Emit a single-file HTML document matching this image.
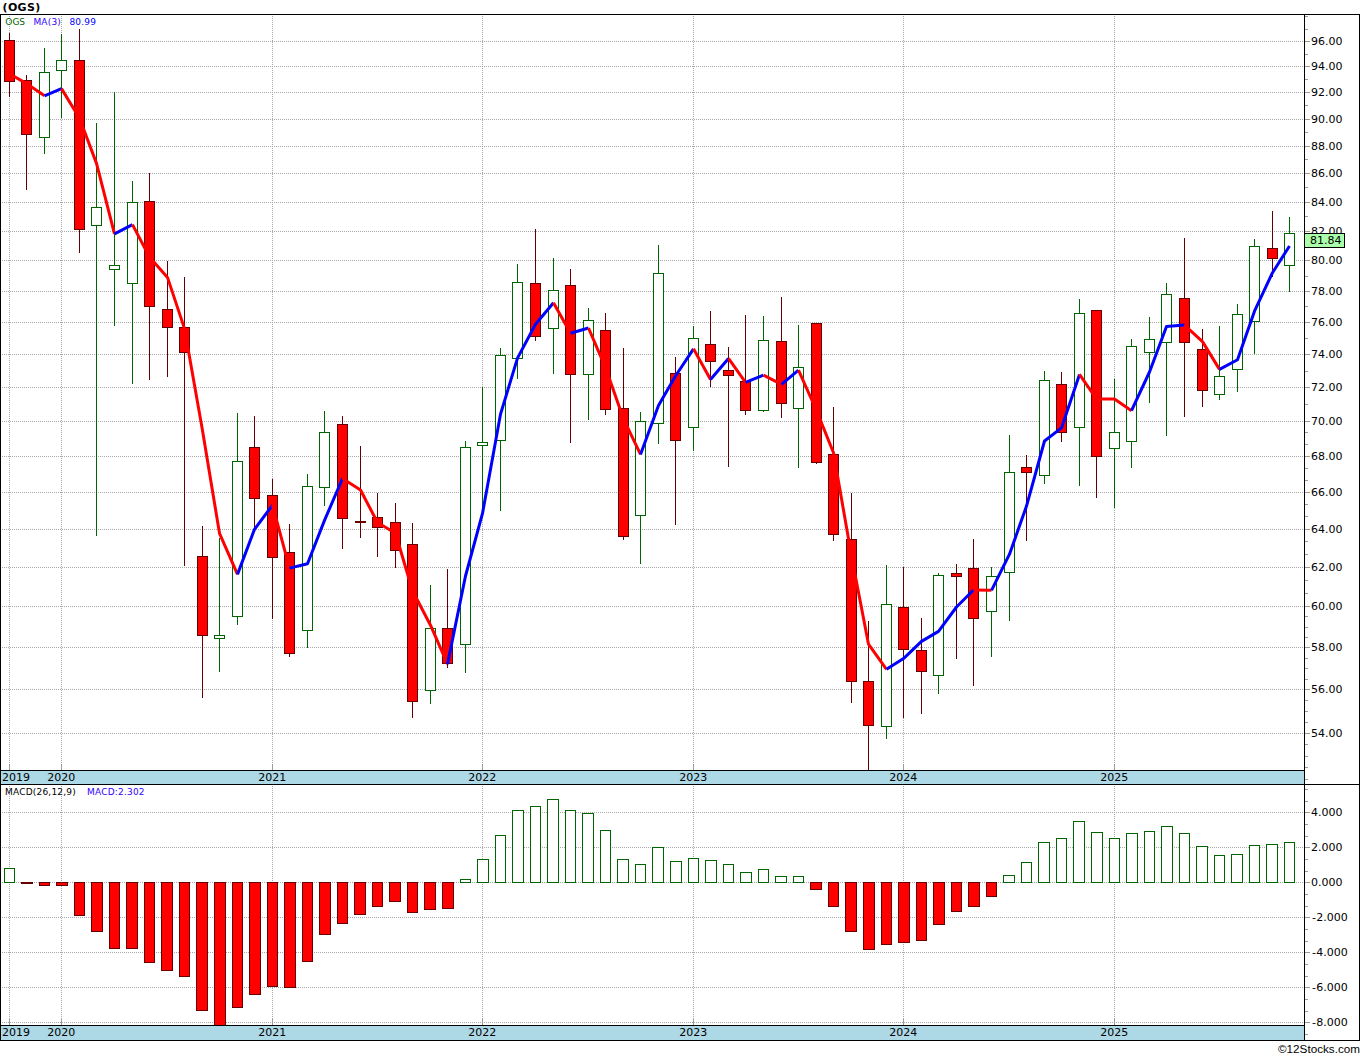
<!DOCTYPE html>
<html lang="en"><head><meta charset="utf-8"><title>(OGS)</title>
<style>
html,body{margin:0;padding:0;background:#fff;}
body{width:1360px;height:1056px;overflow:hidden;}
svg{display:block;}
text{font-family:"DejaVu Sans","Liberation Sans",sans-serif;}
.ax{font-size:11px;fill:#000;}
.lg{font-size:9px;}
.ft{font-family:"Liberation Sans",sans-serif;font-size:11.7px;fill:#000;}
</style></head><body>
<svg width="1360" height="1056" viewBox="0 0 1360 1056">
<rect x="0" y="0" width="1360" height="1056" fill="#ffffff"/>
<text x="2.5" y="11" style="font-size:11px;font-weight:bold;fill:#000;letter-spacing:0.35px">(OGS)</text>
<g shape-rendering="crispEdges" stroke="#a8a8a8" stroke-width="1" stroke-dasharray="1,1" fill="none">
<line x1="2" y1="41.5" x2="1304" y2="41.5"/>
<line x1="2" y1="66.5" x2="1304" y2="66.5"/>
<line x1="2" y1="92.5" x2="1304" y2="92.5"/>
<line x1="2" y1="119.5" x2="1304" y2="119.5"/>
<line x1="2" y1="146.5" x2="1304" y2="146.5"/>
<line x1="2" y1="173.5" x2="1304" y2="173.5"/>
<line x1="2" y1="202.5" x2="1304" y2="202.5"/>
<line x1="2" y1="231.5" x2="1304" y2="231.5"/>
<line x1="2" y1="260.5" x2="1304" y2="260.5"/>
<line x1="2" y1="291.5" x2="1304" y2="291.5"/>
<line x1="2" y1="322.5" x2="1304" y2="322.5"/>
<line x1="2" y1="354.5" x2="1304" y2="354.5"/>
<line x1="2" y1="387.5" x2="1304" y2="387.5"/>
<line x1="2" y1="421.5" x2="1304" y2="421.5"/>
<line x1="2" y1="456.5" x2="1304" y2="456.5"/>
<line x1="2" y1="492.5" x2="1304" y2="492.5"/>
<line x1="2" y1="529.5" x2="1304" y2="529.5"/>
<line x1="2" y1="567.5" x2="1304" y2="567.5"/>
<line x1="2" y1="606.5" x2="1304" y2="606.5"/>
<line x1="2" y1="647.5" x2="1304" y2="647.5"/>
<line x1="2" y1="689.5" x2="1304" y2="689.5"/>
<line x1="2" y1="733.5" x2="1304" y2="733.5"/>
<line x1="2" y1="812.5" x2="1304" y2="812.5"/>
<line x1="2" y1="847.5" x2="1304" y2="847.5"/>
<line x1="2" y1="882.5" x2="1304" y2="882.5"/>
<line x1="2" y1="917.5" x2="1304" y2="917.5"/>
<line x1="2" y1="952.5" x2="1304" y2="952.5"/>
<line x1="2" y1="987.5" x2="1304" y2="987.5"/>
<line x1="2" y1="1022.5" x2="1304" y2="1022.5"/>
<line x1="9.5" y1="16" x2="9.5" y2="764"/>
<line x1="9.5" y1="786" x2="9.5" y2="1020"/>
<line x1="61.5" y1="16" x2="61.5" y2="764"/>
<line x1="61.5" y1="786" x2="61.5" y2="1020"/>
<line x1="272.5" y1="16" x2="272.5" y2="764"/>
<line x1="272.5" y1="786" x2="272.5" y2="1020"/>
<line x1="482.5" y1="16" x2="482.5" y2="764"/>
<line x1="482.5" y1="786" x2="482.5" y2="1020"/>
<line x1="693.5" y1="16" x2="693.5" y2="764"/>
<line x1="693.5" y1="786" x2="693.5" y2="1020"/>
<line x1="903.5" y1="16" x2="903.5" y2="764"/>
<line x1="903.5" y1="786" x2="903.5" y2="1020"/>
<line x1="1114.5" y1="16" x2="1114.5" y2="764"/>
<line x1="1114.5" y1="786" x2="1114.5" y2="1020"/>
</g>
<g shape-rendering="crispEdges">
<rect x="1" y="771" width="1303" height="13" fill="#add8e6"/>
<rect x="1" y="1026" width="1303" height="14" fill="#add8e6"/>
<rect x="9" y="764" width="1" height="6" fill="#9a9a9a"/>
<rect x="9" y="1019" width="1" height="6" fill="#9a9a9a"/>
<rect x="61" y="764" width="1" height="6" fill="#9a9a9a"/>
<rect x="61" y="1019" width="1" height="6" fill="#9a9a9a"/>
<rect x="272" y="764" width="1" height="6" fill="#9a9a9a"/>
<rect x="272" y="1019" width="1" height="6" fill="#9a9a9a"/>
<rect x="482" y="764" width="1" height="6" fill="#9a9a9a"/>
<rect x="482" y="1019" width="1" height="6" fill="#9a9a9a"/>
<rect x="693" y="764" width="1" height="6" fill="#9a9a9a"/>
<rect x="693" y="1019" width="1" height="6" fill="#9a9a9a"/>
<rect x="903" y="764" width="1" height="6" fill="#9a9a9a"/>
<rect x="903" y="1019" width="1" height="6" fill="#9a9a9a"/>
<rect x="1114" y="764" width="1" height="6" fill="#9a9a9a"/>
<rect x="1114" y="1019" width="1" height="6" fill="#9a9a9a"/>
<rect x="0" y="14" width="1360" height="1" fill="#000"/>
<rect x="0" y="14" width="1" height="1027" fill="#000"/>
<rect x="1359" y="14" width="1" height="1027" fill="#000"/>
<rect x="0" y="1040" width="1360" height="1" fill="#000"/>
<rect x="0" y="770" width="1305" height="1" fill="#000"/>
<rect x="0" y="784" width="1360" height="1" fill="#000"/>
<rect x="0" y="1025" width="1305" height="1" fill="#000"/>
<rect x="1304" y="14" width="1" height="1027" fill="#000"/>
<rect x="1305" y="16" width="3" height="1" fill="#9a9a9a"/>
<rect x="1305" y="29" width="3" height="1" fill="#9a9a9a"/>
<rect x="1305" y="41" width="5" height="1" fill="#9a9a9a"/>
<rect x="1305" y="54" width="3" height="1" fill="#9a9a9a"/>
<rect x="1305" y="66" width="5" height="1" fill="#9a9a9a"/>
<rect x="1305" y="79" width="3" height="1" fill="#9a9a9a"/>
<rect x="1305" y="92" width="5" height="1" fill="#9a9a9a"/>
<rect x="1305" y="105" width="3" height="1" fill="#9a9a9a"/>
<rect x="1305" y="119" width="5" height="1" fill="#9a9a9a"/>
<rect x="1305" y="132" width="3" height="1" fill="#9a9a9a"/>
<rect x="1305" y="146" width="5" height="1" fill="#9a9a9a"/>
<rect x="1305" y="159" width="3" height="1" fill="#9a9a9a"/>
<rect x="1305" y="173" width="5" height="1" fill="#9a9a9a"/>
<rect x="1305" y="187" width="3" height="1" fill="#9a9a9a"/>
<rect x="1305" y="202" width="5" height="1" fill="#9a9a9a"/>
<rect x="1305" y="216" width="3" height="1" fill="#9a9a9a"/>
<rect x="1305" y="231" width="5" height="1" fill="#9a9a9a"/>
<rect x="1305" y="245" width="3" height="1" fill="#9a9a9a"/>
<rect x="1305" y="260" width="5" height="1" fill="#9a9a9a"/>
<rect x="1305" y="276" width="3" height="1" fill="#9a9a9a"/>
<rect x="1305" y="291" width="5" height="1" fill="#9a9a9a"/>
<rect x="1305" y="306" width="3" height="1" fill="#9a9a9a"/>
<rect x="1305" y="322" width="5" height="1" fill="#9a9a9a"/>
<rect x="1305" y="338" width="3" height="1" fill="#9a9a9a"/>
<rect x="1305" y="354" width="5" height="1" fill="#9a9a9a"/>
<rect x="1305" y="371" width="3" height="1" fill="#9a9a9a"/>
<rect x="1305" y="387" width="5" height="1" fill="#9a9a9a"/>
<rect x="1305" y="404" width="3" height="1" fill="#9a9a9a"/>
<rect x="1305" y="421" width="5" height="1" fill="#9a9a9a"/>
<rect x="1305" y="432" width="3" height="1" fill="#9a9a9a"/>
<rect x="1305" y="444" width="3" height="1" fill="#9a9a9a"/>
<rect x="1305" y="456" width="5" height="1" fill="#9a9a9a"/>
<rect x="1305" y="468" width="3" height="1" fill="#9a9a9a"/>
<rect x="1305" y="480" width="3" height="1" fill="#9a9a9a"/>
<rect x="1305" y="492" width="5" height="1" fill="#9a9a9a"/>
<rect x="1305" y="504" width="3" height="1" fill="#9a9a9a"/>
<rect x="1305" y="516" width="3" height="1" fill="#9a9a9a"/>
<rect x="1305" y="529" width="5" height="1" fill="#9a9a9a"/>
<rect x="1305" y="541" width="3" height="1" fill="#9a9a9a"/>
<rect x="1305" y="554" width="3" height="1" fill="#9a9a9a"/>
<rect x="1305" y="567" width="5" height="1" fill="#9a9a9a"/>
<rect x="1305" y="580" width="3" height="1" fill="#9a9a9a"/>
<rect x="1305" y="593" width="3" height="1" fill="#9a9a9a"/>
<rect x="1305" y="606" width="5" height="1" fill="#9a9a9a"/>
<rect x="1305" y="616" width="3" height="1" fill="#9a9a9a"/>
<rect x="1305" y="627" width="3" height="1" fill="#9a9a9a"/>
<rect x="1305" y="637" width="3" height="1" fill="#9a9a9a"/>
<rect x="1305" y="647" width="5" height="1" fill="#9a9a9a"/>
<rect x="1305" y="658" width="3" height="1" fill="#9a9a9a"/>
<rect x="1305" y="668" width="3" height="1" fill="#9a9a9a"/>
<rect x="1305" y="679" width="3" height="1" fill="#9a9a9a"/>
<rect x="1305" y="689" width="5" height="1" fill="#9a9a9a"/>
<rect x="1305" y="700" width="3" height="1" fill="#9a9a9a"/>
<rect x="1305" y="711" width="3" height="1" fill="#9a9a9a"/>
<rect x="1305" y="722" width="3" height="1" fill="#9a9a9a"/>
<rect x="1305" y="733" width="5" height="1" fill="#9a9a9a"/>
<rect x="1305" y="744" width="3" height="1" fill="#9a9a9a"/>
<rect x="1305" y="756" width="3" height="1" fill="#9a9a9a"/>
<rect x="1305" y="767" width="3" height="1" fill="#9a9a9a"/>
<rect x="1305" y="779" width="3" height="1" fill="#9a9a9a"/>
<rect x="1305" y="789" width="3" height="1" fill="#9a9a9a"/>
<rect x="1305" y="801" width="3" height="1" fill="#9a9a9a"/>
<rect x="1305" y="812" width="5" height="1" fill="#9a9a9a"/>
<rect x="1305" y="824" width="3" height="1" fill="#9a9a9a"/>
<rect x="1305" y="836" width="3" height="1" fill="#9a9a9a"/>
<rect x="1305" y="847" width="5" height="1" fill="#9a9a9a"/>
<rect x="1305" y="859" width="3" height="1" fill="#9a9a9a"/>
<rect x="1305" y="871" width="3" height="1" fill="#9a9a9a"/>
<rect x="1305" y="882" width="5" height="1" fill="#9a9a9a"/>
<rect x="1305" y="894" width="3" height="1" fill="#9a9a9a"/>
<rect x="1305" y="906" width="3" height="1" fill="#9a9a9a"/>
<rect x="1305" y="917" width="5" height="1" fill="#9a9a9a"/>
<rect x="1305" y="929" width="3" height="1" fill="#9a9a9a"/>
<rect x="1305" y="941" width="3" height="1" fill="#9a9a9a"/>
<rect x="1305" y="952" width="5" height="1" fill="#9a9a9a"/>
<rect x="1305" y="964" width="3" height="1" fill="#9a9a9a"/>
<rect x="1305" y="976" width="3" height="1" fill="#9a9a9a"/>
<rect x="1305" y="987" width="5" height="1" fill="#9a9a9a"/>
<rect x="1305" y="999" width="3" height="1" fill="#9a9a9a"/>
<rect x="1305" y="1011" width="3" height="1" fill="#9a9a9a"/>
<rect x="1305" y="1022" width="5" height="1" fill="#9a9a9a"/>
<rect x="1305" y="1034" width="3" height="1" fill="#9a9a9a"/>
</g>
<text class="ax" x="1311" y="45">96.00</text>
<text class="ax" x="1311" y="70">94.00</text>
<text class="ax" x="1311" y="96">92.00</text>
<text class="ax" x="1311" y="123">90.00</text>
<text class="ax" x="1311" y="150">88.00</text>
<text class="ax" x="1311" y="177">86.00</text>
<text class="ax" x="1311" y="206">84.00</text>
<text class="ax" x="1311" y="235">82.00</text>
<text class="ax" x="1311" y="264">80.00</text>
<text class="ax" x="1311" y="295">78.00</text>
<text class="ax" x="1311" y="326">76.00</text>
<text class="ax" x="1311" y="358">74.00</text>
<text class="ax" x="1311" y="391">72.00</text>
<text class="ax" x="1311" y="425">70.00</text>
<text class="ax" x="1311" y="460">68.00</text>
<text class="ax" x="1311" y="496">66.00</text>
<text class="ax" x="1311" y="533">64.00</text>
<text class="ax" x="1311" y="571">62.00</text>
<text class="ax" x="1311" y="610">60.00</text>
<text class="ax" x="1311" y="651">58.00</text>
<text class="ax" x="1311" y="693">56.00</text>
<text class="ax" x="1311" y="737">54.00</text>
<text class="ax" x="1311" y="816">4.000</text>
<text class="ax" x="1311" y="851">2.000</text>
<text class="ax" x="1311" y="886">0.000</text>
<text class="ax" x="1311.9" y="921">-<tspan dx="0.4">2.000</tspan></text>
<text class="ax" x="1311.9" y="956">-<tspan dx="0.4">4.000</tspan></text>
<text class="ax" x="1311.9" y="991">-<tspan dx="0.4">6.000</tspan></text>
<text class="ax" x="1311.9" y="1026">-<tspan dx="0.4">8.000</tspan></text>
<text class="ax" x="2" y="781">2019</text>
<text class="ax" x="2" y="1036">2019</text>
<text class="ax" x="61.2" y="781" text-anchor="middle">2020</text>
<text class="ax" x="61.2" y="1036" text-anchor="middle">2020</text>
<text class="ax" x="272.2" y="781" text-anchor="middle">2021</text>
<text class="ax" x="272.2" y="1036" text-anchor="middle">2021</text>
<text class="ax" x="482.2" y="781" text-anchor="middle">2022</text>
<text class="ax" x="482.2" y="1036" text-anchor="middle">2022</text>
<text class="ax" x="693.2" y="781" text-anchor="middle">2023</text>
<text class="ax" x="693.2" y="1036" text-anchor="middle">2023</text>
<text class="ax" x="903.2" y="781" text-anchor="middle">2024</text>
<text class="ax" x="903.2" y="1036" text-anchor="middle">2024</text>
<text class="ax" x="1114.2" y="781" text-anchor="middle">2025</text>
<text class="ax" x="1114.2" y="1036" text-anchor="middle">2025</text>
<g shape-rendering="crispEdges">
<rect x="9" y="33" width="1" height="64" fill="#660000"/>
<rect x="4.5" y="40.5" width="10" height="41" fill="#ff0000" stroke="#660000" stroke-width="1"/>
<rect x="26" y="75" width="1" height="115" fill="#660000"/>
<rect x="21.5" y="80.5" width="10" height="54" fill="#ff0000" stroke="#660000" stroke-width="1"/>
<rect x="44" y="48" width="1" height="106" fill="#006400"/>
<rect x="39.5" y="72.5" width="10" height="65" fill="#ffffff" stroke="#006400" stroke-width="1"/>
<rect x="61" y="34" width="1" height="84" fill="#006400"/>
<rect x="56.5" y="60.5" width="10" height="10" fill="#ffffff" stroke="#006400" stroke-width="1"/>
<rect x="79" y="29" width="1" height="224" fill="#660000"/>
<rect x="74.5" y="60.5" width="10" height="169" fill="#ff0000" stroke="#660000" stroke-width="1"/>
<rect x="96" y="123" width="1" height="413" fill="#006400"/>
<rect x="91.5" y="207.5" width="10" height="18" fill="#ffffff" stroke="#006400" stroke-width="1"/>
<rect x="114" y="92" width="1" height="234" fill="#006400"/>
<rect x="109.5" y="265.5" width="10" height="4" fill="#ffffff" stroke="#006400" stroke-width="1"/>
<rect x="132" y="181" width="1" height="203" fill="#006400"/>
<rect x="127.5" y="202.5" width="10" height="81" fill="#ffffff" stroke="#006400" stroke-width="1"/>
<rect x="149" y="173" width="1" height="207" fill="#660000"/>
<rect x="144.5" y="201.5" width="10" height="105" fill="#ff0000" stroke="#660000" stroke-width="1"/>
<rect x="167" y="261" width="1" height="116" fill="#660000"/>
<rect x="162.5" y="309.5" width="10" height="18" fill="#ff0000" stroke="#660000" stroke-width="1"/>
<rect x="184" y="277" width="1" height="289" fill="#660000"/>
<rect x="179.5" y="327.5" width="10" height="25" fill="#ff0000" stroke="#660000" stroke-width="1"/>
<rect x="202" y="526" width="1" height="172" fill="#660000"/>
<rect x="197.5" y="556.5" width="10" height="79" fill="#ff0000" stroke="#660000" stroke-width="1"/>
<rect x="219" y="538" width="1" height="134" fill="#006400"/>
<rect x="214.5" y="635.5" width="10" height="3" fill="#ffffff" stroke="#006400" stroke-width="1"/>
<rect x="237" y="413" width="1" height="212" fill="#006400"/>
<rect x="232.5" y="461.5" width="10" height="155" fill="#ffffff" stroke="#006400" stroke-width="1"/>
<rect x="254" y="416" width="1" height="112" fill="#660000"/>
<rect x="249.5" y="447.5" width="10" height="51" fill="#ff0000" stroke="#660000" stroke-width="1"/>
<rect x="272" y="479" width="1" height="140" fill="#660000"/>
<rect x="267.5" y="495.5" width="10" height="62" fill="#ff0000" stroke="#660000" stroke-width="1"/>
<rect x="289" y="524" width="1" height="133" fill="#660000"/>
<rect x="284.5" y="552.5" width="10" height="101" fill="#ff0000" stroke="#660000" stroke-width="1"/>
<rect x="307" y="474" width="1" height="174" fill="#006400"/>
<rect x="302.5" y="486.5" width="10" height="144" fill="#ffffff" stroke="#006400" stroke-width="1"/>
<rect x="324" y="411" width="1" height="95" fill="#006400"/>
<rect x="319.5" y="432.5" width="10" height="55" fill="#ffffff" stroke="#006400" stroke-width="1"/>
<rect x="342" y="416" width="1" height="133" fill="#660000"/>
<rect x="337.5" y="424.5" width="10" height="94" fill="#ff0000" stroke="#660000" stroke-width="1"/>
<rect x="360" y="446" width="1" height="92" fill="#660000"/>
<rect x="355" y="521" width="11" height="2" fill="#660000"/>
<rect x="377" y="493" width="1" height="64" fill="#660000"/>
<rect x="372.5" y="517.5" width="10" height="10" fill="#ff0000" stroke="#660000" stroke-width="1"/>
<rect x="395" y="503" width="1" height="65" fill="#660000"/>
<rect x="390.5" y="522.5" width="10" height="28" fill="#ff0000" stroke="#660000" stroke-width="1"/>
<rect x="412" y="523" width="1" height="195" fill="#660000"/>
<rect x="407.5" y="544.5" width="10" height="157" fill="#ff0000" stroke="#660000" stroke-width="1"/>
<rect x="430" y="585" width="1" height="119" fill="#006400"/>
<rect x="425.5" y="628.5" width="10" height="62" fill="#ffffff" stroke="#006400" stroke-width="1"/>
<rect x="447" y="569" width="1" height="99" fill="#660000"/>
<rect x="442.5" y="628.5" width="10" height="35" fill="#ff0000" stroke="#660000" stroke-width="1"/>
<rect x="465" y="441" width="1" height="232" fill="#006400"/>
<rect x="460.5" y="447.5" width="10" height="197" fill="#ffffff" stroke="#006400" stroke-width="1"/>
<rect x="482" y="387" width="1" height="126" fill="#006400"/>
<rect x="477.5" y="442.5" width="10" height="3" fill="#ffffff" stroke="#006400" stroke-width="1"/>
<rect x="500" y="348" width="1" height="163" fill="#006400"/>
<rect x="495.5" y="355.5" width="10" height="85" fill="#ffffff" stroke="#006400" stroke-width="1"/>
<rect x="517" y="264" width="1" height="115" fill="#006400"/>
<rect x="512.5" y="282.5" width="10" height="76" fill="#ffffff" stroke="#006400" stroke-width="1"/>
<rect x="535" y="229" width="1" height="112" fill="#660000"/>
<rect x="530.5" y="283.5" width="10" height="53" fill="#ff0000" stroke="#660000" stroke-width="1"/>
<rect x="553" y="258" width="1" height="116" fill="#006400"/>
<rect x="548.5" y="290.5" width="10" height="38" fill="#ffffff" stroke="#006400" stroke-width="1"/>
<rect x="570" y="269" width="1" height="174" fill="#660000"/>
<rect x="565.5" y="285.5" width="10" height="89" fill="#ff0000" stroke="#660000" stroke-width="1"/>
<rect x="588" y="308" width="1" height="112" fill="#006400"/>
<rect x="583.5" y="320.5" width="10" height="54" fill="#ffffff" stroke="#006400" stroke-width="1"/>
<rect x="605" y="313" width="1" height="102" fill="#660000"/>
<rect x="600.5" y="330.5" width="10" height="79" fill="#ff0000" stroke="#660000" stroke-width="1"/>
<rect x="623" y="348" width="1" height="192" fill="#660000"/>
<rect x="618.5" y="408.5" width="10" height="128" fill="#ff0000" stroke="#660000" stroke-width="1"/>
<rect x="640" y="412" width="1" height="152" fill="#006400"/>
<rect x="635.5" y="421.5" width="10" height="94" fill="#ffffff" stroke="#006400" stroke-width="1"/>
<rect x="658" y="245" width="1" height="199" fill="#006400"/>
<rect x="653.5" y="273.5" width="10" height="150" fill="#ffffff" stroke="#006400" stroke-width="1"/>
<rect x="675" y="357" width="1" height="168" fill="#660000"/>
<rect x="670.5" y="373.5" width="10" height="67" fill="#ff0000" stroke="#660000" stroke-width="1"/>
<rect x="693" y="326" width="1" height="125" fill="#006400"/>
<rect x="688.5" y="338.5" width="10" height="89" fill="#ffffff" stroke="#006400" stroke-width="1"/>
<rect x="710" y="311" width="1" height="76" fill="#660000"/>
<rect x="705.5" y="344.5" width="10" height="17" fill="#ff0000" stroke="#660000" stroke-width="1"/>
<rect x="728" y="347" width="1" height="120" fill="#660000"/>
<rect x="723.5" y="370.5" width="10" height="5" fill="#ff0000" stroke="#660000" stroke-width="1"/>
<rect x="745" y="315" width="1" height="100" fill="#660000"/>
<rect x="740.5" y="381.5" width="10" height="29" fill="#ff0000" stroke="#660000" stroke-width="1"/>
<rect x="763" y="316" width="1" height="96" fill="#006400"/>
<rect x="758.5" y="340.5" width="10" height="70" fill="#ffffff" stroke="#006400" stroke-width="1"/>
<rect x="781" y="297" width="1" height="121" fill="#660000"/>
<rect x="776.5" y="341.5" width="10" height="62" fill="#ff0000" stroke="#660000" stroke-width="1"/>
<rect x="798" y="325" width="1" height="143" fill="#006400"/>
<rect x="793.5" y="367.5" width="10" height="41" fill="#ffffff" stroke="#006400" stroke-width="1"/>
<rect x="816" y="323" width="1" height="141" fill="#660000"/>
<rect x="811.5" y="323.5" width="10" height="139" fill="#ff0000" stroke="#660000" stroke-width="1"/>
<rect x="833" y="407" width="1" height="134" fill="#660000"/>
<rect x="828.5" y="454.5" width="10" height="80" fill="#ff0000" stroke="#660000" stroke-width="1"/>
<rect x="851" y="493" width="1" height="210" fill="#660000"/>
<rect x="846.5" y="539.5" width="10" height="142" fill="#ff0000" stroke="#660000" stroke-width="1"/>
<rect x="868" y="621" width="1" height="149" fill="#660000"/>
<rect x="863.5" y="681.5" width="10" height="44" fill="#ff0000" stroke="#660000" stroke-width="1"/>
<rect x="886" y="565" width="1" height="174" fill="#006400"/>
<rect x="881.5" y="604.5" width="10" height="122" fill="#ffffff" stroke="#006400" stroke-width="1"/>
<rect x="903" y="567" width="1" height="151" fill="#660000"/>
<rect x="898.5" y="607.5" width="10" height="42" fill="#ff0000" stroke="#660000" stroke-width="1"/>
<rect x="921" y="618" width="1" height="96" fill="#660000"/>
<rect x="916.5" y="650.5" width="10" height="21" fill="#ff0000" stroke="#660000" stroke-width="1"/>
<rect x="938" y="573" width="1" height="121" fill="#006400"/>
<rect x="933.5" y="575.5" width="10" height="100" fill="#ffffff" stroke="#006400" stroke-width="1"/>
<rect x="956" y="564" width="1" height="95" fill="#660000"/>
<rect x="951.5" y="573.5" width="10" height="3" fill="#ff0000" stroke="#660000" stroke-width="1"/>
<rect x="973" y="539" width="1" height="147" fill="#660000"/>
<rect x="968.5" y="568.5" width="10" height="50" fill="#ff0000" stroke="#660000" stroke-width="1"/>
<rect x="991" y="567" width="1" height="90" fill="#006400"/>
<rect x="986.5" y="576.5" width="10" height="35" fill="#ffffff" stroke="#006400" stroke-width="1"/>
<rect x="1009" y="435" width="1" height="186" fill="#006400"/>
<rect x="1004.5" y="472.5" width="10" height="100" fill="#ffffff" stroke="#006400" stroke-width="1"/>
<rect x="1026" y="455" width="1" height="86" fill="#660000"/>
<rect x="1021.5" y="467.5" width="10" height="5" fill="#ff0000" stroke="#660000" stroke-width="1"/>
<rect x="1044" y="371" width="1" height="113" fill="#006400"/>
<rect x="1039.5" y="380.5" width="10" height="95" fill="#ffffff" stroke="#006400" stroke-width="1"/>
<rect x="1061" y="372" width="1" height="70" fill="#660000"/>
<rect x="1056.5" y="384.5" width="10" height="48" fill="#ff0000" stroke="#660000" stroke-width="1"/>
<rect x="1079" y="299" width="1" height="187" fill="#006400"/>
<rect x="1074.5" y="313.5" width="10" height="114" fill="#ffffff" stroke="#006400" stroke-width="1"/>
<rect x="1096" y="310" width="1" height="188" fill="#660000"/>
<rect x="1091.5" y="310.5" width="10" height="146" fill="#ff0000" stroke="#660000" stroke-width="1"/>
<rect x="1114" y="379" width="1" height="129" fill="#006400"/>
<rect x="1109.5" y="432.5" width="10" height="16" fill="#ffffff" stroke="#006400" stroke-width="1"/>
<rect x="1131" y="339" width="1" height="129" fill="#006400"/>
<rect x="1126.5" y="346.5" width="10" height="95" fill="#ffffff" stroke="#006400" stroke-width="1"/>
<rect x="1149" y="317" width="1" height="86" fill="#006400"/>
<rect x="1144.5" y="339.5" width="10" height="13" fill="#ffffff" stroke="#006400" stroke-width="1"/>
<rect x="1166" y="283" width="1" height="153" fill="#006400"/>
<rect x="1161.5" y="294.5" width="10" height="48" fill="#ffffff" stroke="#006400" stroke-width="1"/>
<rect x="1184" y="238" width="1" height="179" fill="#660000"/>
<rect x="1179.5" y="298.5" width="10" height="44" fill="#ff0000" stroke="#660000" stroke-width="1"/>
<rect x="1202" y="329" width="1" height="78" fill="#660000"/>
<rect x="1197.5" y="349.5" width="10" height="41" fill="#ff0000" stroke="#660000" stroke-width="1"/>
<rect x="1219" y="326" width="1" height="74" fill="#006400"/>
<rect x="1214.5" y="376.5" width="10" height="18" fill="#ffffff" stroke="#006400" stroke-width="1"/>
<rect x="1237" y="304" width="1" height="88" fill="#006400"/>
<rect x="1232.5" y="314.5" width="10" height="55" fill="#ffffff" stroke="#006400" stroke-width="1"/>
<rect x="1254" y="239" width="1" height="115" fill="#006400"/>
<rect x="1249.5" y="246.5" width="10" height="75" fill="#ffffff" stroke="#006400" stroke-width="1"/>
<rect x="1272" y="211" width="1" height="66" fill="#660000"/>
<rect x="1267.5" y="248.5" width="10" height="10" fill="#ff0000" stroke="#660000" stroke-width="1"/>
<rect x="1289" y="217" width="1" height="75" fill="#006400"/>
<rect x="1284.5" y="233.5" width="10" height="32" fill="#ffffff" stroke="#006400" stroke-width="1"/>
</g>
<g fill="none" stroke-width="3" stroke-linecap="butt" stroke-linejoin="round">
<polyline points="9.5,73.7 26.5,83.6 44.5,95.8" stroke="#ff0000"/>
<polyline points="44.5,95.8 61.5,88.6" stroke="#0000ff"/>
<polyline points="61.5,88.6 79.5,118.2 96.5,163.4 114.5,233.8" stroke="#ff0000"/>
<polyline points="114.5,233.8 132.5,224.6" stroke="#0000ff"/>
<polyline points="132.5,224.6 149.5,257.1 167.5,277.4 184.5,328.6 202.5,430.5 219.5,533.3 237.5,574.4" stroke="#ff0000"/>
<polyline points="237.5,574.4 254.5,529.3 272.5,505.1" stroke="#0000ff"/>
<polyline points="272.5,505.1 289.5,568.1" stroke="#ff0000"/>
<polyline points="289.5,568.1 307.5,563.8 324.5,520.4 342.5,478.5" stroke="#0000ff"/>
<polyline points="342.5,478.5 360.5,490.0 377.5,522.5 395.5,533.2 412.5,590.7 430.5,625.2 447.5,664.1" stroke="#ff0000"/>
<polyline points="447.5,664.1 465.5,576.0 482.5,513.4 500.5,414.2 517.5,358.1 535.5,324.3 553.5,302.8" stroke="#0000ff"/>
<polyline points="553.5,302.8 570.5,333.3" stroke="#ff0000"/>
<polyline points="570.5,333.3 588.5,328.0" stroke="#0000ff"/>
<polyline points="588.5,328.0 605.5,367.6 623.5,418.9 640.5,454.4" stroke="#ff0000"/>
<polyline points="640.5,454.4 658.5,405.5 675.5,376.0 693.5,348.8" stroke="#0000ff"/>
<polyline points="693.5,348.8 710.5,379.4" stroke="#ff0000"/>
<polyline points="710.5,379.4 728.5,358.4" stroke="#0000ff"/>
<polyline points="728.5,358.4 745.5,382.3" stroke="#ff0000"/>
<polyline points="745.5,382.3 763.5,375.2" stroke="#0000ff"/>
<polyline points="763.5,375.2 781.5,384.4" stroke="#ff0000"/>
<polyline points="781.5,384.4 798.5,370.2" stroke="#0000ff"/>
<polyline points="798.5,370.2 816.5,410.5 833.5,452.8 851.5,556.0 868.5,644.2 886.5,669.3" stroke="#ff0000"/>
<polyline points="886.5,669.3 903.5,658.6 921.5,641.4 938.5,631.4 956.5,607.0 973.5,590.0" stroke="#0000ff"/>
<polyline points="973.5,590.0 991.5,590.3" stroke="#ff0000"/>
<polyline points="991.5,590.3 1009.5,554.2 1026.5,506.1 1044.5,441.0 1061.5,427.9 1079.5,374.4" stroke="#0000ff"/>
<polyline points="1079.5,374.4 1096.5,399.0 1114.5,398.9 1131.5,410.7" stroke="#ff0000"/>
<polyline points="1131.5,410.7 1149.5,372.0 1166.5,326.5 1184.5,325.1" stroke="#0000ff"/>
<polyline points="1184.5,325.1 1202.5,341.6 1219.5,369.4" stroke="#ff0000"/>
<polyline points="1219.5,369.4 1237.5,359.8 1254.5,311.2 1272.5,272.7 1289.5,246.0" stroke="#0000ff"/>
</g>
<g shape-rendering="crispEdges">
<rect x="4.5" y="868.5" width="10" height="14" fill="#ffffff" stroke="#006400" stroke-width="1"/>
<rect x="21" y="882" width="12" height="2" fill="#660000"/>
<rect x="39.5" y="882.5" width="10" height="3" fill="#ff0000" stroke="#660000" stroke-width="1"/>
<rect x="56.5" y="882.5" width="11" height="3" fill="#ff0000" stroke="#660000" stroke-width="1"/>
<rect x="74.5" y="882.5" width="10" height="33" fill="#ff0000" stroke="#660000" stroke-width="1"/>
<rect x="91.5" y="882.5" width="11" height="49" fill="#ff0000" stroke="#660000" stroke-width="1"/>
<rect x="109.5" y="882.5" width="10" height="66" fill="#ff0000" stroke="#660000" stroke-width="1"/>
<rect x="126.5" y="882.5" width="11" height="66" fill="#ff0000" stroke="#660000" stroke-width="1"/>
<rect x="144.5" y="882.5" width="10" height="80" fill="#ff0000" stroke="#660000" stroke-width="1"/>
<rect x="161.5" y="882.5" width="11" height="88" fill="#ff0000" stroke="#660000" stroke-width="1"/>
<rect x="179.5" y="882.5" width="10" height="94" fill="#ff0000" stroke="#660000" stroke-width="1"/>
<rect x="196.5" y="882.5" width="11" height="128" fill="#ff0000" stroke="#660000" stroke-width="1"/>
<rect x="214.5" y="882.5" width="11" height="143" fill="#ff0000" stroke="#660000" stroke-width="1"/>
<rect x="232.5" y="882.5" width="10" height="125" fill="#ff0000" stroke="#660000" stroke-width="1"/>
<rect x="249.5" y="882.5" width="11" height="112" fill="#ff0000" stroke="#660000" stroke-width="1"/>
<rect x="267.5" y="882.5" width="10" height="104" fill="#ff0000" stroke="#660000" stroke-width="1"/>
<rect x="284.5" y="882.5" width="11" height="105" fill="#ff0000" stroke="#660000" stroke-width="1"/>
<rect x="302.5" y="882.5" width="10" height="79" fill="#ff0000" stroke="#660000" stroke-width="1"/>
<rect x="319.5" y="882.5" width="11" height="52" fill="#ff0000" stroke="#660000" stroke-width="1"/>
<rect x="337.5" y="882.5" width="10" height="41" fill="#ff0000" stroke="#660000" stroke-width="1"/>
<rect x="354.5" y="882.5" width="11" height="32" fill="#ff0000" stroke="#660000" stroke-width="1"/>
<rect x="372.5" y="882.5" width="10" height="24" fill="#ff0000" stroke="#660000" stroke-width="1"/>
<rect x="389.5" y="882.5" width="11" height="19" fill="#ff0000" stroke="#660000" stroke-width="1"/>
<rect x="407.5" y="882.5" width="10" height="30" fill="#ff0000" stroke="#660000" stroke-width="1"/>
<rect x="424.5" y="882.5" width="11" height="27" fill="#ff0000" stroke="#660000" stroke-width="1"/>
<rect x="442.5" y="882.5" width="11" height="26" fill="#ff0000" stroke="#660000" stroke-width="1"/>
<rect x="460.5" y="879.5" width="10" height="3" fill="#ffffff" stroke="#006400" stroke-width="1"/>
<rect x="477.5" y="859.5" width="11" height="23" fill="#ffffff" stroke="#006400" stroke-width="1"/>
<rect x="495.5" y="835.5" width="10" height="47" fill="#ffffff" stroke="#006400" stroke-width="1"/>
<rect x="512.5" y="810.5" width="11" height="72" fill="#ffffff" stroke="#006400" stroke-width="1"/>
<rect x="530.5" y="806.5" width="10" height="76" fill="#ffffff" stroke="#006400" stroke-width="1"/>
<rect x="547.5" y="799.5" width="11" height="83" fill="#ffffff" stroke="#006400" stroke-width="1"/>
<rect x="565.5" y="810.5" width="10" height="72" fill="#ffffff" stroke="#006400" stroke-width="1"/>
<rect x="582.5" y="813.5" width="11" height="69" fill="#ffffff" stroke="#006400" stroke-width="1"/>
<rect x="600.5" y="830.5" width="10" height="52" fill="#ffffff" stroke="#006400" stroke-width="1"/>
<rect x="617.5" y="859.5" width="11" height="23" fill="#ffffff" stroke="#006400" stroke-width="1"/>
<rect x="635.5" y="864.5" width="10" height="18" fill="#ffffff" stroke="#006400" stroke-width="1"/>
<rect x="652.5" y="847.5" width="11" height="35" fill="#ffffff" stroke="#006400" stroke-width="1"/>
<rect x="670.5" y="861.5" width="11" height="21" fill="#ffffff" stroke="#006400" stroke-width="1"/>
<rect x="688.5" y="858.5" width="10" height="24" fill="#ffffff" stroke="#006400" stroke-width="1"/>
<rect x="705.5" y="860.5" width="11" height="22" fill="#ffffff" stroke="#006400" stroke-width="1"/>
<rect x="723.5" y="864.5" width="10" height="18" fill="#ffffff" stroke="#006400" stroke-width="1"/>
<rect x="740.5" y="872.5" width="11" height="10" fill="#ffffff" stroke="#006400" stroke-width="1"/>
<rect x="758.5" y="869.5" width="10" height="13" fill="#ffffff" stroke="#006400" stroke-width="1"/>
<rect x="775.5" y="876.5" width="11" height="6" fill="#ffffff" stroke="#006400" stroke-width="1"/>
<rect x="793.5" y="876.5" width="10" height="6" fill="#ffffff" stroke="#006400" stroke-width="1"/>
<rect x="810.5" y="882.5" width="11" height="7" fill="#ff0000" stroke="#660000" stroke-width="1"/>
<rect x="828.5" y="882.5" width="10" height="24" fill="#ff0000" stroke="#660000" stroke-width="1"/>
<rect x="845.5" y="882.5" width="11" height="49" fill="#ff0000" stroke="#660000" stroke-width="1"/>
<rect x="863.5" y="882.5" width="11" height="67" fill="#ff0000" stroke="#660000" stroke-width="1"/>
<rect x="881.5" y="882.5" width="10" height="62" fill="#ff0000" stroke="#660000" stroke-width="1"/>
<rect x="898.5" y="882.5" width="11" height="60" fill="#ff0000" stroke="#660000" stroke-width="1"/>
<rect x="916.5" y="882.5" width="10" height="58" fill="#ff0000" stroke="#660000" stroke-width="1"/>
<rect x="933.5" y="882.5" width="11" height="42" fill="#ff0000" stroke="#660000" stroke-width="1"/>
<rect x="951.5" y="882.5" width="10" height="29" fill="#ff0000" stroke="#660000" stroke-width="1"/>
<rect x="968.5" y="882.5" width="11" height="24" fill="#ff0000" stroke="#660000" stroke-width="1"/>
<rect x="986.5" y="882.5" width="10" height="14" fill="#ff0000" stroke="#660000" stroke-width="1"/>
<rect x="1003.5" y="875.5" width="11" height="7" fill="#ffffff" stroke="#006400" stroke-width="1"/>
<rect x="1021.5" y="862.5" width="10" height="20" fill="#ffffff" stroke="#006400" stroke-width="1"/>
<rect x="1038.5" y="842.5" width="11" height="40" fill="#ffffff" stroke="#006400" stroke-width="1"/>
<rect x="1056.5" y="838.5" width="10" height="44" fill="#ffffff" stroke="#006400" stroke-width="1"/>
<rect x="1073.5" y="821.5" width="11" height="61" fill="#ffffff" stroke="#006400" stroke-width="1"/>
<rect x="1091.5" y="832.5" width="11" height="50" fill="#ffffff" stroke="#006400" stroke-width="1"/>
<rect x="1109.5" y="838.5" width="10" height="44" fill="#ffffff" stroke="#006400" stroke-width="1"/>
<rect x="1126.5" y="833.5" width="11" height="49" fill="#ffffff" stroke="#006400" stroke-width="1"/>
<rect x="1144.5" y="831.5" width="10" height="51" fill="#ffffff" stroke="#006400" stroke-width="1"/>
<rect x="1161.5" y="826.5" width="11" height="56" fill="#ffffff" stroke="#006400" stroke-width="1"/>
<rect x="1179.5" y="833.5" width="10" height="49" fill="#ffffff" stroke="#006400" stroke-width="1"/>
<rect x="1196.5" y="846.5" width="11" height="36" fill="#ffffff" stroke="#006400" stroke-width="1"/>
<rect x="1214.5" y="855.5" width="10" height="27" fill="#ffffff" stroke="#006400" stroke-width="1"/>
<rect x="1231.5" y="854.5" width="11" height="28" fill="#ffffff" stroke="#006400" stroke-width="1"/>
<rect x="1249.5" y="845.5" width="10" height="37" fill="#ffffff" stroke="#006400" stroke-width="1"/>
<rect x="1266.5" y="844.5" width="11" height="38" fill="#ffffff" stroke="#006400" stroke-width="1"/>
<rect x="1284.5" y="842.5" width="10" height="40" fill="#ffffff" stroke="#006400" stroke-width="1"/>
</g>
<rect x="0" y="1025" width="1305" height="1" fill="#000" shape-rendering="crispEdges"/>
<g shape-rendering="crispEdges">
<rect x="1304.5" y="233.5" width="40" height="14" fill="#aaffaa" stroke="#000" stroke-width="1"/>
</g>
<text class="ax" x="1310" y="244">81.84</text>
<text class="lg" x="5.3" y="24.5" fill="#006400">OGS</text>
<text class="lg" x="33.4" y="24.5" fill="#3300ff" style="letter-spacing:0.2px">MA(3)</text>
<text class="lg" x="69.4" y="24.5" fill="#0000ff" style="letter-spacing:0.2px">80.99</text>
<text class="lg" x="5" y="795" fill="#000" style="letter-spacing:0.2px">MACD(26,12,9)</text>
<text class="lg" x="87" y="795" fill="#3300ff" style="letter-spacing:0.2px">MACD:2.302</text>
<text class="ft" x="1360" y="1052.6" text-anchor="end">©12Stocks.com</text>
</svg>
</body></html>
